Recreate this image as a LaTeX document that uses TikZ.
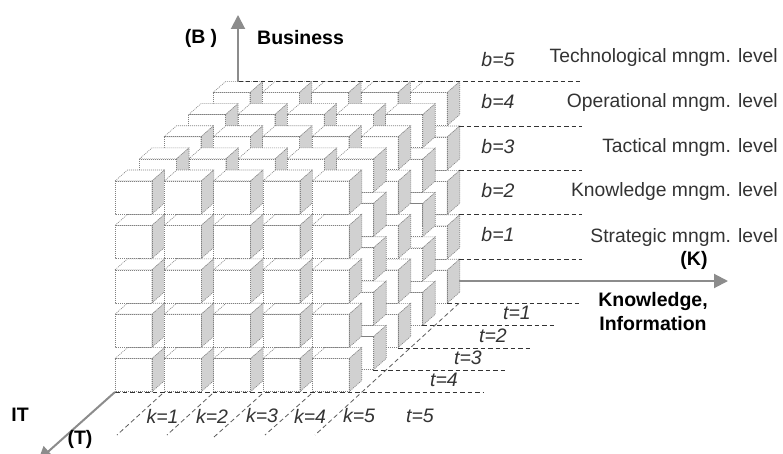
\documentclass[tikz,border=0pt]{standalone}
\usepackage{fontspec}
\setmainfont{Liberation Sans}
\usetikzlibrary{arrows.meta}
\definecolor{sidegray}{gray}{0.82}
\definecolor{edgegray}{gray}{0.50}
\definecolor{axisgray}{gray}{0.55}
\definecolor{dashcol}{gray}{0.20}
\tikzset{
  cubeedge/.style={draw=edgegray,line width=0.6pt,dash pattern=on 1pt off 1pt},
  levelline/.style={draw=dashcol,line width=0.8pt,dash pattern=on 4.5pt off 3pt},
  axisline/.style={draw=axisgray,line width=2pt,-{Triangle[length=14pt,width=14pt]}},
  boldlabel/.style={font=\fontsize{19.5}{24}\selectfont\bfseries,text=black,inner sep=0pt},
  levellabel/.style={font=\fontsize{19.3}{24}\selectfont,text=black!80,inner sep=0pt,anchor=east},
  idxlabel/.style={font=\fontsize{19.5}{24}\selectfont\itshape,text=black!80,inner sep=0pt},
}
\newcommand{\unitcube}[2]{%
  \fill[white] (#1,#2) rectangle ++(37,33);
  \filldraw[fill=white,cubeedge] (#1,#2) -- ++(12.5,-11) -- ++(37,0) -- ++(-12.5,11) -- cycle;
  \filldraw[fill=sidegray,cubeedge] (#1+37,#2) -- ++(12.5,-11) -- ++(0,33) -- ++(-12.5,11) -- cycle;
  \draw[cubeedge] (#1,#2) rectangle ++(37,33);
}
\begin{document}
\begin{tikzpicture}[x=1pt,y=-1pt]
\useasboundingbox (0,0) rectangle (783,454);
\fill[white] (0,0) rectangle (783,454);
% cubes, back to front
\foreach \d in {4,3,2,1,0}{
  \foreach \r in {4,3,2,1,0}{
    \foreach \c in {0,1,2,3,4}{
      \pgfmathsetmacro{\cx}{115+49.3*\c+24.5*\d}
      \pgfmathsetmacro{\cy}{181-22.1*\d+44.4*\r}
      \unitcube{\cx}{\cy}
    }
  }
}
% anchors
\coordinate (orig) at (115,392);
\coordinate (bstart) at (238,81.7);
\coordinate (btip) at (238,15);
\coordinate (kstart) at (459,281);
\coordinate (ktip) at (728,281);
\coordinate (ttip) at (38,460.7);
\coordinate (b5l) at (238,81.7); \coordinate (b5r) at (582,81.7);
\coordinate (b4l) at (459,126); \coordinate (b4r) at (582,126);
\coordinate (b3l) at (459,170.4); \coordinate (b3r) at (582,170.4);
\coordinate (b2l) at (459,214.8); \coordinate (b2r) at (582,214.8);
\coordinate (b1l) at (459,259.2); \coordinate (b1r) at (582,259.2);
\draw[levelline] (b5l) -- (b5r);
\draw[levelline] (b4l) -- (b4r);
\draw[levelline] (b3l) -- (b3r);
\draw[levelline] (b2l) -- (b2r);
\draw[levelline] (b1l) -- (b1r);
% t lines
\coordinate (t1l) at (447,303.3); \coordinate (t1r) at (582,303.3);
\coordinate (t2l) at (422,325.7); \coordinate (t2r) at (557,325.7);
\coordinate (t3l) at (398,348); \coordinate (t3r) at (532,348);
\coordinate (t4l) at (373,370); \coordinate (t4r) at (507,370);
\coordinate (t5l) at (115,392); \coordinate (t5r) at (483,392);
\draw[levelline] (t1l) -- (t1r);
\draw[levelline] (t2l) -- (t2r);
\draw[levelline] (t3l) -- (t3r);
\draw[levelline] (t4l) -- (t4r);
\draw[levelline] (t5l) -- (t5r);
% k lines
\coordinate (k1a) at (162,394); \coordinate (k1b) at (117,435);
\coordinate (k2a) at (212,394); \coordinate (k2b) at (167,435);
\coordinate (k3a) at (262,394); \coordinate (k3b) at (214,437);
\coordinate (k4a) at (311,394); \coordinate (k4b) at (265,435);
\coordinate (k5a) at (459,303.3); \coordinate (k5b) at (315,435);
\draw[levelline,draw=dashcol!80] (k1a) -- (k1b);
\draw[levelline,draw=dashcol!80] (k2a) -- (k2b);
\draw[levelline,draw=dashcol!80] (k3a) -- (k3b);
\draw[levelline,draw=dashcol!80] (k4a) -- (k4b);
\draw[levelline,draw=dashcol!80] (k5a) -- (k5b);
% axes
\draw[axisline] (bstart) -- (btip);
\draw[axisline] (kstart) -- (ktip);
\draw[axisline] (orig) -- (ttip);
% bold labels
\node[boldlabel] (lb) at (201,38) {(B )};
\node[boldlabel,anchor=west] (lbus) at (257,38) {Business};
\node[boldlabel] (lk) at (694,260) {(K)};
\node[boldlabel,align=center] (lki) at (653,312) {Knowledge,\\Information};
\node[boldlabel] (lit) at (20,415) {IT};
\node[boldlabel] (lt) at (80,439) {(T)};
% level labels
\node[levellabel] (l5) at (778,58) {Technological mngm. level};
\node[levellabel] (l4) at (778,103) {Operational mngm. level};
\node[levellabel] (l3) at (778,148) {Tactical mngm. level};
\node[levellabel] (l2) at (778,192) {Knowledge mngm. level};
\node[levellabel] (l1) at (778,238) {Strategic mngm. level};
% indices
\node[idxlabel] (ib5) at (498,60) {b=5};
\node[idxlabel] (ib4) at (498,102) {b=4};
\node[idxlabel] (ib3) at (498,147) {b=3};
\node[idxlabel] (ib2) at (498,191) {b=2};
\node[idxlabel] (ib1) at (498,235) {b=1};
\node[idxlabel] (it1) at (517,313) {t=1};
\node[idxlabel] (it2) at (493,336) {t=2};
\node[idxlabel] (it3) at (468,358) {t=3};
\node[idxlabel] (it4) at (444,380) {t=4};
\node[idxlabel] (it5) at (420,416) {t=5};
\node[idxlabel] (ik1) at (162.5,416) {k=1};
\node[idxlabel] (ik2) at (212,416) {k=2};
\node[idxlabel] (ik3) at (262,416) {k=3};
\node[idxlabel] (ik4) at (310,416) {k=4};
\node[idxlabel] (ik5) at (359,416) {k=5};
\end{tikzpicture}
\end{document}
